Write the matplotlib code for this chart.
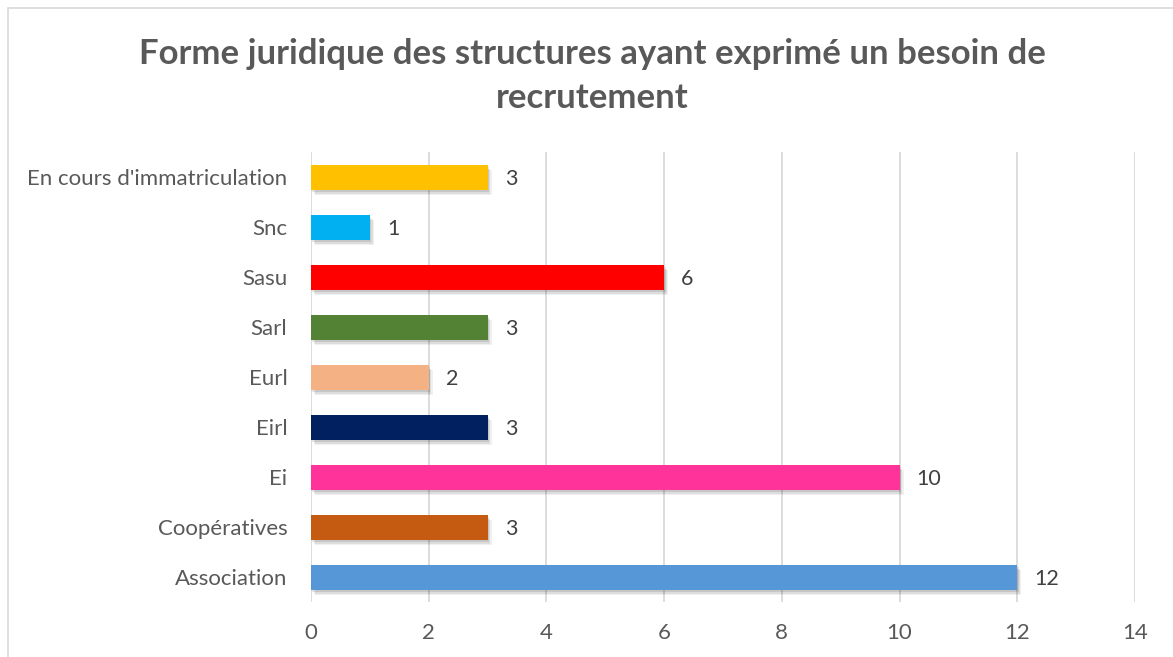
import matplotlib
matplotlib.use("Agg")
import matplotlib.pyplot as plt
import matplotlib.patheffects as pe
from matplotlib.patches import Rectangle

categories = ["Association", "Coopératives", "Ei", "Eirl", "Eurl", "Sarl", "Sasu", "Snc",
              "En cours d'immatriculation"]
values = [12, 3, 10, 3, 2, 3, 6, 1, 3]
colors = ["#5697D8", "#C55A11", "#FF3399", "#002060", "#F4B183", "#548235", "#FF0000",
          "#00B0F0", "#FFC000"]
xticks = [0, 2, 4, 6, 8, 10, 12, 14]
title = "Forme juridique des structures ayant exprimé un besoin de\nrecrutement"

plt.rcParams['font.family'] = ['Lato', 'DejaVu Sans']

fig = plt.figure(figsize=(11.73, 6.57), dpi=100)
ax = fig.add_axes([0.2651, 0.0837, 0.7025, 0.6849])

bars = ax.barh(range(len(categories)), values, height=0.5, color=colors, zorder=3)
for b in bars:
    b.set_path_effects([
        pe.SimplePatchShadow(offset=(3, -4), shadow_rgbFace="#000000", alpha=0.06),
        pe.SimplePatchShadow(offset=(2, -3), shadow_rgbFace="#000000", alpha=0.08),
        pe.SimplePatchShadow(offset=(1, -2), shadow_rgbFace="#000000", alpha=0.10),
        pe.Normal()])

for i, v in enumerate(values):
    ax.text(v + 0.29, i - 0.03, str(v), va="center", ha="left", fontsize=15.5, color="#404040")

ax.set_xlim(0, 14)
ax.set_ylim(-0.5, len(categories) - 0.5)
ax.set_xticks(xticks)
ax.set_xticklabels([str(t) for t in xticks])
ax.set_yticks(range(len(categories)))
ax.set_yticklabels(categories)
ax.tick_params(axis="both", length=0, labelsize=16, labelcolor="#595959")
ax.tick_params(axis="x", pad=15)
ax.tick_params(axis="y", pad=17)
ax.grid(axis="x", color="#D9D9D9", linewidth=1.3, zorder=0)
for s in ax.spines.values():
    s.set_visible(False)

fig.text(0.505, 0.884, title, ha="center", va="center", fontsize=25, fontweight="bold",
         color="#595959", linespacing=1.48)

fig.patches.append(Rectangle((8 / 1173, -0.01), 1.2, 1 - 8 / 657 + 0.01, transform=fig.transFigure,
                             fill=False, edgecolor="#D9D9D9", linewidth=1.2))

fig.savefig("out.png", dpi=100)
